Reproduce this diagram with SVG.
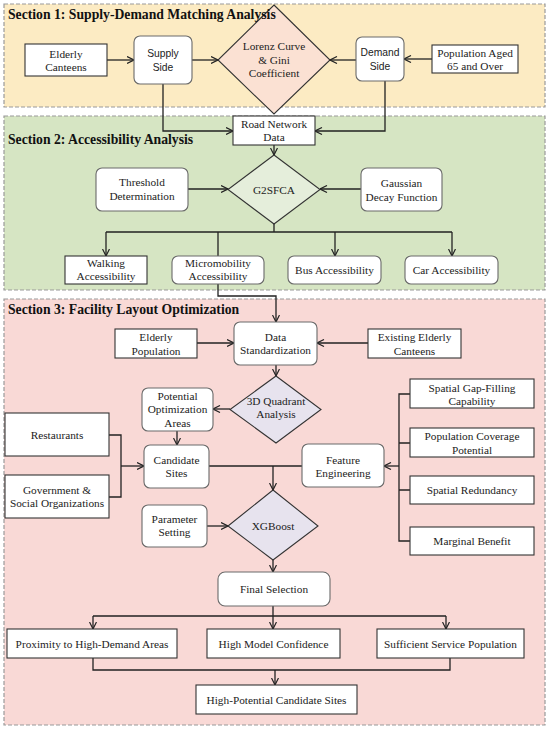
<svg xmlns="http://www.w3.org/2000/svg" width="550" height="731" viewBox="0 0 550 731">
<defs>
<marker id="ah" viewBox="0 0 8 8" refX="7.5" refY="4" markerWidth="8" markerHeight="8" markerUnits="userSpaceOnUse" orient="auto">
<path d="M0.5,0.5 L7.5,4 L0.5,7.5" fill="none" stroke="#222" stroke-width="1.2"/>
</marker>
</defs>
<style>
.sec{stroke:#9a9a9a;stroke-width:1.2;stroke-dasharray:4,2}
.title{font-family:"Liberation Serif","Times New Roman",serif;font-weight:bold;font-size:13.7px;fill:#111;text-anchor:start}
.box{fill:#fff;stroke:#333;stroke-width:1.1}
.rbox{fill:#fff;stroke:#6a6a6a;stroke-width:1.1}
.dia{stroke:#333;stroke-width:1.1}
text{font-family:"Liberation Serif","Times New Roman",serif;font-size:11.3px;fill:#222;text-anchor:middle}
.sans{font-family:"Liberation Sans",Arial,sans-serif;font-size:10.3px}
.c{fill:none;stroke:#222;stroke-width:1.3}
.a{marker-end:url(#ah)}
</style>
<rect width="550" height="731" fill="#fff"/>
<g id="sections">
<rect class="sec" x="4" y="4" width="541" height="103" fill="#fcebc3"/>
<rect class="sec" x="4" y="116" width="541" height="174" fill="#d6e5c3"/>
<rect class="sec" x="4" y="299" width="541" height="426" fill="#f9d9d6"/>
</g>
<g id="connectors">
<path class="c a" d="M107,60 H134"/>
<path class="c a" d="M192,60 H218"/>
<path class="c a" d="M356,60 H330"/>
<path class="c a" d="M432,59 H404"/>
<path class="c a" d="M163,84 V131 H233"/>
<path class="c a" d="M385,81 V131 H315"/>
<path class="c a" d="M274,145 V155"/>
<path class="c a" d="M188,189 H228"/>
<path class="c a" d="M361,189 H320"/>
<path class="c" d="M274,224 V232 M106,232 H452 M218,232 V256"/>
<path class="c a" d="M106,232 V256"/>
<path class="c a" d="M335,232 V256"/>
<path class="c a" d="M452,232 V256"/>
<path class="c a" d="M218,284 V296 H276 V322"/>
<path class="c a" d="M197,343 H234"/>
<path class="c a" d="M368,343 H317"/>
<path class="c a" d="M276,365 V376"/>
<path class="c a" d="M230,409 H213"/>
<path class="c a" d="M177,431 V445"/>
<path class="c" d="M109,435 H121 V497 H109"/>
<path class="c a" d="M121,466 H144"/>
<path class="c" d="M209,466 H302"/>
<path class="c a" d="M273,466 V490"/>
<path class="c" d="M410,394 H399 V541 H410 M410,443 H399 M410,490 H399"/>
<path class="c a" d="M399,466 H384"/>
<path class="c a" d="M207,526 H228"/>
<path class="c a" d="M273,560 V572"/>
<path class="c" d="M273,606 V616 M93,616 H446"/>
<path class="c a" d="M93,616 V629"/>
<path class="c a" d="M273,616 V629"/>
<path class="c a" d="M446,616 V629"/>
<path class="c" d="M93,658 V670 H450 V658"/>
<path class="c a" d="M275,670 V685"/>
</g>
<g id="elderly-canteens"><rect class="box" x="25" y="44" width="82" height="32"/><text x="66" y="57.5">Elderly</text><text x="66" y="71">Canteens</text></g>
<g id="supply-side"><rect class="rbox" x="134" y="36" width="58" height="48" rx="6"/><text class="sans" x="163" y="57">Supply</text><text class="sans" x="163" y="70.5">Side</text></g>
<g id="lorenz"><polygon class="dia" points="274,5 330,60 274,114 218,60" fill="#fbe1d3"/><text x="274" y="50">Lorenz Curve</text><text x="274" y="63.5">&amp; Gini</text><text x="274" y="77">Coefficient</text></g>
<g id="demand-side"><rect class="rbox" x="356" y="37" width="48" height="44" rx="6"/><text class="sans" x="380" y="56">Demand</text><text class="sans" x="380" y="69.5">Side</text></g>
<g id="population-65"><rect class="box" x="432" y="45" width="86" height="28"/><text x="475" y="56.5">Population Aged</text><text x="475" y="69.5">65 and Over</text></g>
<g id="road-network"><rect class="box" x="233" y="116" width="82" height="29"/><text x="274" y="128">Road Network</text><text x="274" y="141">Data</text></g>
<g id="g2sfca"><polygon class="dia" points="274,155 320,189.5 274,224 228,189.5" fill="#e5eedb"/><text x="274" y="194">G2SFCA</text></g>
<g id="threshold"><rect class="rbox" x="96" y="168" width="92" height="43" rx="6"/><text x="142" y="186">Threshold</text><text x="142" y="200">Determination</text></g>
<g id="gaussian"><rect class="rbox" x="361" y="168" width="81" height="43" rx="6"/><text x="401.5" y="186.5">Gaussian</text><text x="401.5" y="200.5">Decay Function</text></g>
<g id="walking"><rect class="box" x="65" y="256" width="82" height="28"/><text x="106" y="267.3">Walking</text><text x="106" y="280">Accessibility</text></g>
<g id="micromobility"><rect class="rbox" x="172" y="256" width="92" height="28" rx="6"/><text x="218" y="267.3">Micromobility</text><text x="218" y="280">Accessibility</text></g>
<g id="bus"><rect class="rbox" x="288" y="256" width="93" height="28" rx="6"/><text x="334.5" y="274">Bus Accessibility</text></g>
<g id="car"><rect class="rbox" x="405" y="256" width="93" height="28" rx="6"/><text x="451.5" y="274">Car Accessibility</text></g>
<g id="data-standardization"><rect class="rbox" x="234" y="322" width="83" height="43" rx="6"/><text x="275.5" y="340.7">Data</text><text x="275.5" y="354.3">Standardization</text></g>
<g id="elderly-population"><rect class="box" x="115" y="329" width="82" height="29"/><text x="156" y="340.7">Elderly</text><text x="156" y="354.7">Population</text></g>
<g id="existing-canteens"><rect class="box" x="368" y="329" width="93" height="29"/><text x="414.5" y="340.7">Existing Elderly</text><text x="414.5" y="354.7">Canteens</text></g>
<g id="quadrant"><polygon class="dia" points="276,376 321,409.5 276,443 230,409.5" fill="#e7e3ee"/><text x="276" y="405">3D Quadrant</text><text x="276" y="418.3">Analysis</text></g>
<g id="potential-areas"><rect class="rbox" x="142" y="388" width="71" height="43" rx="6"/><text x="177.5" y="400">Potential</text><text x="177.5" y="413.3">Optimization</text><text x="177.5" y="427.3">Areas</text></g>
<g id="candidate-sites"><rect class="rbox" x="144" y="445" width="65" height="43" rx="6"/><text x="176.5" y="464">Candidate</text><text x="176.5" y="476.7">Sites</text></g>
<g id="restaurants"><rect class="box" x="5" y="413" width="104" height="43"/><text x="57" y="439">Restaurants</text></g>
<g id="government"><rect class="box" x="5" y="475" width="104" height="43"/><text x="57" y="494">Government &amp;</text><text x="57" y="507.3">Social Organizations</text></g>
<g id="feature-engineering"><rect class="rbox" x="302" y="444" width="82" height="43" rx="6"/><text x="343" y="464">Feature</text><text x="343" y="477.3">Engineering</text></g>
<g id="gap-filling"><rect class="box" x="410" y="379" width="124" height="29"/><text x="472" y="391.7">Spatial Gap-Filling</text><text x="472" y="405">Capability</text></g>
<g id="coverage"><rect class="box" x="410" y="428" width="124" height="29"/><text x="472" y="440">Population Coverage</text><text x="472" y="454">Potential</text></g>
<g id="redundancy"><rect class="box" x="410" y="476" width="124" height="28"/><text x="472" y="494">Spatial Redundancy</text></g>
<g id="marginal"><rect class="box" x="410" y="527" width="124" height="28"/><text x="472" y="545">Marginal Benefit</text></g>
<g id="xgboost"><polygon class="dia" points="273,490 318,526 273,560 228,526" fill="#e7e3ee"/><text x="273" y="530">XGBoost</text></g>
<g id="parameter"><rect class="rbox" x="142" y="505" width="65" height="42" rx="6"/><text x="174.5" y="523.3">Parameter</text><text x="174.5" y="536">Setting</text></g>
<g id="final-selection"><rect class="rbox" x="218" y="572" width="112" height="34" rx="7"/><text x="274" y="593">Final Selection</text></g>
<g id="proximity"><rect class="box" x="7" y="629" width="170" height="29"/><text x="92" y="647.5">Proximity to High-Demand Areas</text></g>
<g id="confidence"><rect class="box" x="207" y="629" width="133" height="29"/><text x="273.5" y="647.5">High Model Confidence</text></g>
<g id="sufficient"><rect class="box" x="377" y="629" width="147" height="29"/><text x="450.5" y="647.5">Sufficient Service Population</text></g>
<g id="high-potential"><rect class="box" x="196" y="685" width="161" height="29"/><text x="276.5" y="703.5">High-Potential Candidate Sites</text></g>
<g id="section-titles">
<text class="title" x="8" y="18.5">Section 1: Supply-Demand Matching Analysis</text>
<text class="title" x="8" y="144">Section 2: Accessibility Analysis</text>
<text class="title" x="8" y="313.5">Section 3: Facility Layout Optimization</text>
</g>
</svg>
